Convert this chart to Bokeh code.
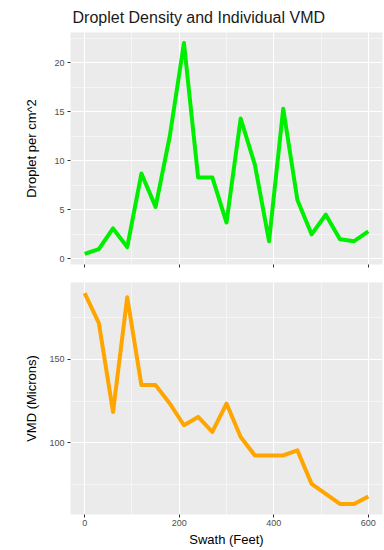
from bokeh.plotting import figure
from bokeh.layouts import column
from bokeh.models import FixedTicker, Range1d
from bokeh.embed import file_html
from bokeh.resources import INLINE

# ---- data ----
swath = [0, 30, 60, 90, 120, 150, 180, 210, 240, 270, 300,
         330, 360, 390, 420, 450, 480, 510, 540, 570, 600]
droplets = [0.5, 1.0, 3.1, 1.2, 8.7, 5.3, 12.5, 22.0, 8.3, 8.3, 3.7,
            14.3, 9.6, 1.8, 15.3, 6.0, 2.5, 4.5, 2.0, 1.8, 2.8]
vmd = [189.5, 171.5, 118.5, 187.0, 134.5, 134.5, 123.5, 110.5, 115.5, 106.5, 123.5,
       103.5, 92.5, 92.5, 92.5, 95.5, 75.5, 69.5, 63.5, 63.5, 68.0]

x_major = [0, 200, 400, 600]
x_minor = [100, 300, 500]
y1_major = [0, 5, 10, 15, 20]
y1_minor = [2.5, 7.5, 12.5, 17.5, 22.5]
y2_major = [50, 100, 150, 200]
y2_minor = [75, 125, 175]

title_text = "Droplet Density and Individual VMD"
y1_label = "Droplet per cm^2"
y2_label = "VMD (Microns)"
x_label = "Swath (Feet)"

FONT = "Liberation Sans"
PANEL = "#EBEBEB"
TICKCOL = "#4D4D4D"


def expand(vals, f=0.05):
    lo, hi = min(vals), max(vals)
    d = (hi - lo) * f
    return Range1d(lo - d, hi + d)


def style(p, ymaj, ymin):
    p.background_fill_color = PANEL
    p.border_fill_color = "white"
    p.outline_line_color = None
    p.xaxis.ticker = FixedTicker(ticks=x_major, minor_ticks=x_minor)
    p.yaxis.ticker = FixedTicker(ticks=ymaj, minor_ticks=ymin)
    for g in (p.xgrid, p.ygrid):
        g.grid_line_color = "white"
        g.grid_line_width = 1.1
        g.minor_grid_line_color = "white"
        g.minor_grid_line_width = 0.5
    for ax in (p.xaxis, p.yaxis):
        ax.axis_line_color = None
        ax.major_tick_line_color = "#333333"
        ax.major_tick_in = 0
        ax.major_tick_out = 3
        ax.minor_tick_line_color = None
        ax.major_label_text_color = TICKCOL
        ax.major_label_text_font = FONT
        ax.major_label_text_font_size = "9px"
        ax.major_label_standoff = 2
        ax.axis_label_text_font = FONT
        ax.axis_label_text_font_size = "13px"
        ax.axis_label_text_font_style = "normal"
        ax.axis_label_text_color = "black"


W = 384
H1 = 274
H2 = 276

p1 = figure(width=W, height=H1, output_backend="svg", toolbar_location=None,
            x_range=Range1d(-30, 630), y_range=expand(droplets),
            min_border_left=70, min_border_right=2, min_border_top=32,
            min_border_bottom=10)
p1.line(swath, droplets, line_color="#00EE00", line_width=4, line_join="round")
style(p1, y1_major, y1_minor)
p1.yaxis.axis_label = y1_label
p1.yaxis.axis_label_standoff = 12
p1.xaxis.major_label_overrides = {t: "" for t in x_major}
p1.xaxis.major_label_text_font_size = "1px"
p1.xaxis.major_label_standoff = 0
p1.title.text = title_text
p1.title.text_font = FONT
p1.title.text_font_size = "16px"
p1.title.text_font_style = "normal"
p1.title.text_color = "#1A1A1A"
p1.title.align = "left"
p1.title.offset = 2
p1.title.standoff = 13

p2 = figure(width=W, height=H2, output_backend="svg", toolbar_location=None,
            x_range=Range1d(-30, 630), y_range=expand(vmd),
            min_border_left=70, min_border_right=2, min_border_top=8,
            min_border_bottom=36)
p2.line(swath, vmd, line_color="#FFA500", line_width=4, line_join="round")
style(p2, y2_major, y2_minor)
p2.yaxis.axis_label = y2_label
p2.yaxis.axis_label_standoff = 7
p2.xaxis.axis_label = x_label
p2.xaxis.axis_label_standoff = 3
p2.xaxis.major_label_standoff = 1

layout = column(p1, p2, spacing=0)
open("out.html", "w").write(file_html(layout, INLINE))
